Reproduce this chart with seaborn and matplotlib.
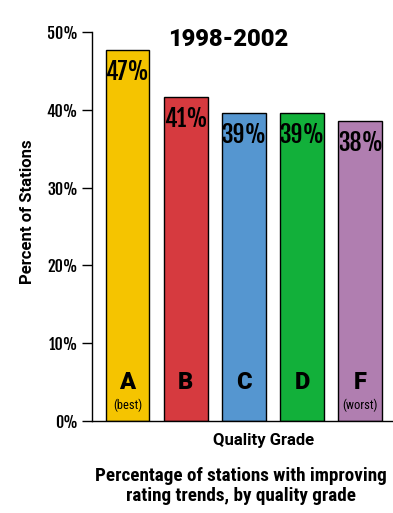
import matplotlib
matplotlib.use("Agg")
import matplotlib.pyplot as plt
import seaborn as sns
import pandas as pd

# values; labels are the printed numbers
grades = ["A", "B", "C", "D", "F"]
grade_notes = ["(best)", "", "", "", "(worst)"]
pct = [47.7, 41.7, 39.6, 39.6, 38.6]
pct_labels = ["47%", "41%", "39%", "39%", "38%"]
colors = ["#F5C400", "#D63A3F", "#5596D0", "#12B03A", "#B07EB0"]
yticks = [0, 10, 20, 30, 40, 50]

df = pd.DataFrame({"grade": grades, "pct": pct})

sns.set_style("white")
plt.rcParams["text.color"] = "black"
plt.rcParams["ytick.color"] = "black"
narrow = "Roboto Condensed"
heavy_narrow = "Fjalla One"
wide = "Roboto"

fig = plt.figure(figsize=(3.93, 5.13), dpi=100)
ax = fig.add_axes([92 / 393, 1 - 421 / 513, 1 - 92 / 393, (421 - 32) / 513])

sns.barplot(data=df, x="grade", y="pct", hue="grade", palette=colors,
            legend=False, width=0.755, edgecolor="black", linewidth=1,
            saturation=1, ax=ax)

ax.set_ylim(0, 50)
ax.set_xlim(-0.61, 4.56)
ax.set_yticks(yticks)
ax.set_yticklabels([f"{t}%" for t in yticks], fontfamily=heavy_narrow,
                   fontsize=11.5)
ax.set_xticks([])
ax.tick_params(axis="y", length=7, width=1, color="black", direction="out",
               left=True, pad=3)
for side in ["top", "right"]:
    ax.spines[side].set_visible(False)
for side in ["left", "bottom"]:
    ax.spines[side].set_color("black")
    ax.spines[side].set_linewidth(1)

ax.set_xlabel("")
ax.set_ylabel("")

# value labels inside the bar tops, grade letters at the bottom
for i, (v, lab) in enumerate(zip(pct, pct_labels)):
    ax.text(i, v - 1.2, lab, ha="center", va="top", fontfamily=heavy_narrow,
            fontsize=17)
    ax.text(i, 4.9, grades[i], ha="center", va="center", fontfamily=wide,
            fontweight="black", fontsize=17)
    if grade_notes[i]:
        ax.text(i, 2.0, grade_notes[i], ha="center", va="center",
                fontfamily=narrow, fontsize=9)

fig.text(228 / 393, 1 - 40 / 513, "1998-2002", ha="center", va="center",
         fontfamily=wide, fontweight="black", fontsize=17)
fig.text(28 / 393, 1 - 212 / 513, "Percent of Stations", ha="center",
         va="center", rotation=90, fontfamily=wide, fontweight="bold",
         fontsize=12)
fig.text(264 / 393, 1 - 440 / 513, "Quality Grade", ha="center",
         va="center", fontfamily=wide, fontweight="bold", fontsize=12)
fig.text(241 / 393, 1 - 486 / 513,
         "Percentage of stations with improving\nrating trends, by quality grade",
         ha="center", va="center", fontfamily=narrow, fontweight="bold",
         fontsize=13.8, linespacing=1.2)

fig.savefig("out.png", dpi=100)
